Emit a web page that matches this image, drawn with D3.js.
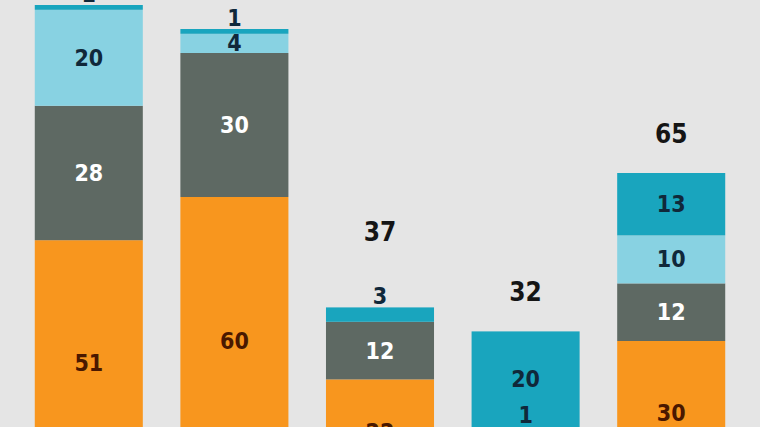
<!DOCTYPE html>
<html>
<head>
<meta charset="utf-8">
<script src="https://cdn.jsdelivr.net/npm/d3@7.9.0/dist/d3.min.js"></script>
<style>
  html, body { margin: 0; padding: 0; background: #e5e5e5; }
  svg { display: block; }
  text { font-family: "Liberation Sans Narrow", "DejaVu Sans Condensed", "Roboto", sans-serif; font-weight: bold; }
</style>
</head>
<body>
<svg id="chart" width="760" height="427"></svg>
<script>
const categories = ["1", "2", "3", "4", "5"];
const seriesKeys = ["orange", "gray", "lightblue", "teal"];
const orangeValues = [51, 60, 22, 11, 30];
const grayValues = [28, 30, 12, 0, 12];
const lightblueValues = [20, 4, 0, 1, 10];
const tealValues = [1, 1, 3, 20, 13];

const colors = {
  orange: "#f8961e",
  gray: "#5e6963",
  lightblue: "#88d2e2",
  teal: "#19a5be",
};
const textColors = {
  orange: "#4a1800",
  gray: "#ffffff",
  lightblue: "#10283a",
  teal: "#10283a",
};

const width = 760;
const height = 427;

const rows = categories.map((c, i) => ({
  category: c,
  orange: orangeValues[i],
  gray: grayValues[i],
  lightblue: lightblueValues[i],
  teal: tealValues[i],
}));

const x = d3.scaleBand()
  .domain(categories)
  .range([16, 744])
  .paddingInner(0.258)
  .paddingOuter(0.129);

const y = d3.scaleLinear().domain([0, 100]).range([485, 5]);

const stacked = d3.stack().keys(seriesKeys)(rows);

const svg = d3.select("#chart");

svg.append("rect").attr("width", width).attr("height", height).attr("fill", "#e5e5e5");

const layers = svg.selectAll("g.layer")
  .data(stacked)
  .join("g")
  .attr("class", "layer")
  .attr("fill", (d) => colors[d.key]);

layers.selectAll("rect")
  .data((d) => d)
  .join("rect")
  .attr("x", (d) => x(d.data.category))
  .attr("width", x.bandwidth())
  .attr("y", (d) => y(d[1]))
  .attr("height", (d) => y(d[0]) - y(d[1]));

// segment labels
const labels = [];
rows.forEach((row, i) => {
  let total = d3.sum(seriesKeys, (k) => row[k]);
  let top = y(total);
  let outside = false;
  stacked.forEach((layer) => {
    let seg = layer[i];
    let v = seg[1] - seg[0];
    if (v <= 0) return;
    let cy;
    if (v <= 3 && seg[1] === total) {
      cy = top - 11;
      outside = true;
    } else if (v <= 1) {
      cy = y(seg[1]) - 12;
    } else {
      cy = (y(seg[0]) + y(seg[1])) / 2;
    }
    labels.push({
      category: row.category,
      text: v,
      cy,
      fill: outside && seg[1] === total && v <= 3 ? "#10283a" : textColors[layer.key],
      size: 23,
    });
  });
  labels.push({
    category: row.category,
    text: total,
    cy: top - 39 - (outside ? 36 : 0),
    fill: "#151515",
    size: 26,
  });
});

svg.selectAll("text.value")
  .data(labels)
  .join("text")
  .attr("class", "value")
  .attr("x", (d) => x(d.category) + x.bandwidth() / 2)
  .attr("y", (d) => d.cy)
  .attr("text-anchor", "middle")
  .attr("dominant-baseline", "central")
  .attr("font-size", (d) => d.size)
  .attr("fill", (d) => d.fill)
  .text((d) => d.text);
</script>
</body>
</html>
